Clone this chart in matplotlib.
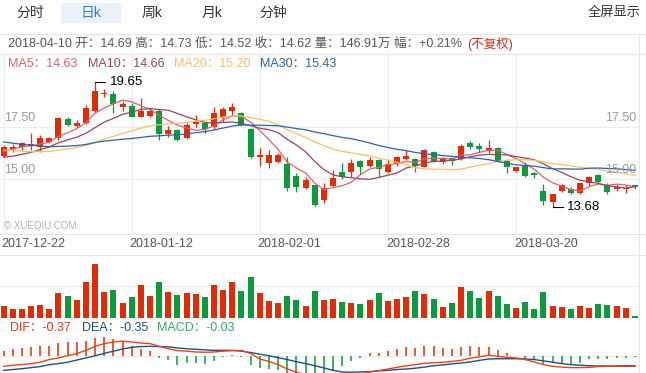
import numpy as np
import pandas as pd
import matplotlib
matplotlib.use('Agg')
import matplotlib.pyplot as plt
from matplotlib.lines import Line2D
from matplotlib.patches import Rectangle

plt.rcParams['font.family'] = ['Liberation Sans', 'Noto Sans CJK SC']

W, H = 646, 373

## DAILY K DATA 2017-12-22 .. 2018-04-10 (70 trading days)
opens = [16.10, 16.42, 16.51, 16.58, 16.51, 16.79, 16.94, 17.85, 17.53, 17.69,
         18.27, 19.06, 19.06, 18.43, 18.49, 17.98, 18.03, 18.27, 17.14, 17.34,
         16.94, 17.63, 17.66, 17.47, 17.98, 18.27, 18.17, 17.37, 16.07, 15.78,
         15.83, 15.72, 15.14, 14.56, 14.71, 14.00, 14.68, 15.34, 15.35, 15.86,
         15.64, 15.91, 15.35, 15.70, 15.97, 15.94, 15.59, 16.31, 15.83, 15.99,
         15.94, 16.74, 16.58, 16.36, 16.50, 15.86, 15.40, 15.64, 15.27, 14.43,
         13.89, 14.44, 14.51, 14.35, 14.79, 15.19, 14.71, 14.51, 14.54, 14.69]
highs = [16.63, 16.67, 16.79, 17.18, 17.10, 17.02, 17.98, 17.98, 17.82, 18.54,
         19.65, 19.29, 19.22, 18.74, 18.62, 18.86, 18.38, 18.33, 17.53, 17.37,
         17.66, 18.06, 17.74, 18.43, 18.43, 18.62, 18.20, 17.42, 16.47, 16.39,
         16.23, 16.04, 15.27, 15.11, 14.73, 14.79, 15.43, 15.75, 15.94, 15.91,
         16.04, 15.94, 15.91, 16.10, 16.39, 15.99, 16.42, 16.34, 16.04, 16.04,
         16.67, 16.83, 16.71, 16.86, 16.55, 15.94, 15.59, 15.83, 15.35, 14.76,
         14.30, 14.74, 14.63, 14.83, 15.14, 15.22, 14.79, 14.75, 14.71, 14.73]
lows = [16.04, 16.31, 16.39, 16.39, 16.31, 16.74, 16.86, 17.53, 17.50, 17.63,
        18.14, 18.90, 18.17, 18.27, 17.95, 17.95, 17.98, 16.86, 17.02, 16.83,
        16.91, 17.47, 17.18, 17.37, 17.74, 18.06, 17.53, 15.99, 15.62, 15.51,
        15.75, 14.44, 14.40, 14.51, 13.72, 13.87, 14.63, 14.99, 15.11, 15.24,
        15.59, 15.11, 15.30, 15.62, 15.91, 15.35, 15.56, 15.80, 15.72, 15.67,
        15.91, 16.42, 16.31, 16.23, 15.83, 15.27, 15.35, 15.08, 15.03, 13.75,
        13.68, 14.40, 14.28, 14.28, 14.67, 14.83, 14.27, 14.44, 14.35, 14.52]
closes = [16.51, 16.51, 16.74, 16.67, 16.94, 16.94, 17.90, 17.58, 17.69, 18.38,
          19.21, 19.13, 18.57, 18.57, 17.98, 18.27, 18.27, 17.14, 17.34, 16.86,
          17.58, 17.71, 17.37, 18.17, 18.35, 18.46, 17.58, 16.04, 16.15, 16.15,
          16.15, 14.56, 14.63, 14.95, 13.75, 14.56, 15.06, 15.08, 15.75, 15.59,
          15.91, 15.46, 15.70, 16.04, 16.10, 15.62, 16.39, 15.83, 15.99, 15.88,
          16.58, 16.51, 16.42, 16.47, 15.88, 15.59, 15.56, 15.14, 15.18, 13.95,
          14.28, 14.71, 14.35, 14.79, 15.08, 14.87, 14.40, 14.63, 14.59, 14.62]
# volume, 万股
volumes = [787, 621, 621, 787, 851, 621, 1619, 1427, 1171, 2323,
           3475, 1683, 1811, 979, 1363, 2131, 1427, 2323, 1683, 1491,
           1619, 1555, 1363, 2131, 1811, 2323, 1747, 2643, 1619, 1107,
           979, 1427, 1171, 787, 1747, 1171, 1235, 1043, 979, 915,
           1171, 1619, 1107, 1235, 1363, 1747, 1555, 1235, 723, 979,
           2003, 1747, 1299, 1747, 1427, 915, 659, 1043, 595, 1683,
           787, 723, 595, 787, 659, 915, 851, 787, 659, 146.91]
# closes of the 29 sessions before 2017-12-22 (only used for the MA lines)
prev_closes = [18.4, 18.3, 18.1, 18.0, 17.9, 17.5, 17.2, 16.9, 16.7, 16.5,
               17.0, 17.3, 17.2, 16.9, 16.8, 16.6, 16.5, 16.4, 16.3, 16.3,
               16.0, 15.9, 15.7, 15.6, 15.7, 15.9, 16.2, 16.4, 16.5]
dif = [-0.37, -0.33, -0.31, -0.27, -0.22, -0.12, -0.06, 0.02, 0.10, 0.22,
       0.37, 0.47, 0.53, 0.56, 0.53, 0.49, 0.47, 0.37, 0.28, 0.21,
       0.19, 0.16, 0.15, 0.16, 0.19, 0.21, 0.22, 0.10, -0.10, -0.19,
       -0.31, -0.47, -0.59, -0.68, -0.78, -0.85, -0.88, -0.85, -0.78, -0.66,
       -0.58, -0.53, -0.47, -0.41, -0.35, -0.31, -0.26, -0.24, -0.22, -0.19,
       -0.15, -0.07, -0.02, 0.04, 0.00, -0.04, -0.06, -0.12, -0.21, -0.31,
       -0.37, -0.40, -0.42, -0.42, -0.41, -0.38, -0.37, -0.37, -0.37, -0.37]
dea = [-0.52, -0.49, -0.46, -0.42, -0.38, -0.31, -0.27, -0.22, -0.14, -0.06,
       0.02, 0.11, 0.19, 0.27, 0.33, 0.36, 0.37, 0.36, 0.35, 0.31,
       0.28, 0.26, 0.24, 0.22, 0.22, 0.22, 0.19, 0.14, 0.08, 0.02,
       -0.05, -0.12, -0.20, -0.27, -0.35, -0.43, -0.52, -0.58, -0.59, -0.58,
       -0.57, -0.54, -0.52, -0.49, -0.47, -0.44, -0.40, -0.35, -0.32, -0.28,
       -0.25, -0.21, -0.15, -0.10, -0.09, -0.09, -0.09, -0.10, -0.12, -0.17,
       -0.22, -0.27, -0.31, -0.33, -0.35, -0.36, -0.36, -0.36, -0.35, -0.35]
macd = [0.19, 0.27, 0.31, 0.35, 0.37, 0.37, 0.49, 0.52, 0.53, 0.56,
        0.68, 0.72, 0.64, 0.56, 0.37, 0.27, 0.19, -0.06, -0.15, -0.31,
        -0.25, -0.25, -0.27, -0.18, -0.03, 0.03, -0.03, -0.31, -0.43, -0.47,
        -0.49, -0.65, -0.75, -0.80, -0.85, -0.75, -0.56, -0.37, -0.19, -0.06,
        0.12, 0.12, 0.19, 0.27, 0.35, 0.31, 0.37, 0.37, 0.31, 0.27,
        0.35, 0.37, 0.35, 0.35, 0.22, 0.12, 0.01, -0.10, -0.12, -0.31,
        -0.22, -0.25, -0.27, -0.25, -0.10, -0.10, -0.10, -0.07, -0.07, -0.03]
date_ticks = [0, 14, 28, 42, 56]
date_labels = ['2017-12-22', '2018-01-12', '2018-02-01', '2018-02-28', '2018-03-20']
price_ticks = [17.50, 15.00]
ma_periods = [5, 10, 20, 30]
ma_last = [14.63, 14.66, 15.20, 15.43]   # values shown in the legend

RED = '#e02c08'
GREEN = '#0c9a3c'
GRID = '#ececec'
ma_colors = ['#e0606f', '#9a4260', '#fbbf63', '#2b63ab']

n = len(closes)
x = np.arange(n)
o = np.array(opens); c = np.array(closes)
up = c >= o
cols = [RED if u else GREEN for u in up]

allc = pd.Series(prev_closes + closes)
mas = [allc.rolling(p).mean().values[-n:] for p in ma_periods]

fig = plt.figure(figsize=(W / 100, H / 100), dpi=100)


def px_axes(x0, y0, w, h):
    a = fig.add_axes([x0 / W, 1 - (y0 + h) / H, w / W, h / H])
    a.set_axis_off()
    a.set_xlim(-0.5, n - 0.5)
    return a


def ftext(px, py, s, **kw):
    return fig.text(px / W, 1 - py / H, s, **kw)


def hline(py, x0=0, x1=W, color='#e6e6e6'):
    fig.add_artist(Line2D([x0 / W, x1 / W], [1 - py / H, 1 - py / H], color=color, lw=0.8))


## TABS
fig.add_artist(Rectangle((61 / W, 1 - 23 / H), 60 / W, 20 / H, color='#eaf1fb', lw=0))
for tx, lab in zip([30, 91, 152, 212, 273], ['分时', '日k', '周k', '月k', '分钟']):
    ftext(tx, 13, lab, ha='center', va='center', fontsize=10,
          color='#3a7ad0' if lab == '日k' else '#333333')
ftext(641, 13, '全屏显示', ha='right', va='center', fontsize=9.5, color='#333333')

## INFO LINE
hline(34)
hline(54)
info = ftext(8, 44, '2018-04-10 开：14.69 高：14.73 低：14.52 收：14.62 量：146.91万 幅：+0.21%',
             ha='left', va='center', fontsize=9, color='#555555')
fig.canvas.draw()
bb = info.get_window_extent()
ftext(bb.x1 + 5, 44, '(不复权)', ha='left', va='center', fontsize=9, color='#d42a1e')

for lx, p, col, v in zip([8, 88, 174, 260], ma_periods, ma_colors, ma_last):
    ftext(lx, 64, 'MA%d：%.2f' % (p, v), ha='left', va='center', fontsize=9, color=col)

## CANDLES
ax = px_axes(-1, 54, 640.5, 180)
ax.set_ylim(15 - 55 / 20.92, 15 + 125 / 20.92)
for t in date_ticks:
    ax.axvline(t, color=GRID, lw=0.8, zorder=0)
for p in price_ticks:
    ax.axhline(p, color=GRID, lw=0.8, zorder=0)
ax.vlines(x, lows, highs, colors=cols, lw=0.9, zorder=2)
body = np.maximum(np.abs(c - o), 0.035)
ax.bar(x, body, bottom=np.minimum(o, c), width=0.66, color=cols, lw=0, zorder=3)
for m, col in zip(mas, ma_colors):
    ax.plot(x, m, color=col, lw=0.9, zorder=4)

hi = int(np.argmax(highs)); lo = int(np.argmin(lows))
ax.plot([hi, hi + 1.1], [highs[hi], highs[hi]], color='black', lw=0.8, zorder=5)
ax.text(hi + 1.6, highs[hi], '%.2f' % highs[hi], va='center', ha='left', fontsize=9.5, color='black')
ax.plot([lo, lo + 1.1], [lows[lo], lows[lo]], color='black', lw=0.8, zorder=5)
ax.text(lo + 1.6, lows[lo], '%.2f' % lows[lo], va='center', ha='left', fontsize=9.5, color='black')

for p in price_ticks:
    ax.annotate('%.2f' % p, (0, p), xycoords=('axes fraction', 'data'), xytext=(5, 3),
                textcoords='offset pixels', ha='left', va='bottom', fontsize=9, color='#999999')
    ax.annotate('%.2f' % p, (1, p), xycoords=('axes fraction', 'data'), xytext=(-3, 3),
                textcoords='offset pixels', ha='right', va='bottom', fontsize=9, color='#999999', zorder=6)
ftext(4, 226, '© XUEQIU.COM', ha='left', va='center', fontsize=7, color='#b0b0b0')

## DATES
hline(234)
hline(254.5)
for t, lab in zip(date_ticks, date_labels):
    ax.annotate(lab, (t, 0), xycoords=('data', 'axes fraction'), xytext=(-2, -10),
                textcoords='offset pixels', ha='left', va='center', fontsize=9, color='#555555')

## VOLUME
av = px_axes(-1, 254.5, 640.5, 63.8)
av.set_ylim(0, 4080)
av.axhline(2040, color=GRID, lw=0.8, zorder=0)
av.bar(x, volumes, width=0.66, color=cols, lw=0)

## MACD
am = px_axes(-1, 318.3, 640.5, 54.7)
am.set_ylim(-(373 - 356.3) / 27, (356.3 - 318.3) / 27)
am.axhline(0, color=GRID, lw=0.8, zorder=0)
hc = [RED if v >= 0 else GREEN for v in macd]
am.vlines(x, 0, macd, colors=hc, lw=1.1)
am.plot(x, dea, color='#1f4f80', lw=1.0)
am.plot(x, dif, color='#e8441c', lw=1.0)
ftext(10, 328, 'DIF：%.2f' % dif[-1], ha='left', va='center', fontsize=9, color='#e0391c')
ftext(82, 328, 'DEA：%.2f' % dea[-1], ha='left', va='center', fontsize=9, color='#1f4f80')
ftext(157, 328, 'MACD：%.2f' % macd[-1], ha='left', va='center', fontsize=9, color='#3aa86b')

fig.add_artist(Line2D([639 / W, 639 / W], [0, 1 - 34 / H], color='#e6e6e6', lw=0.8))

fig.savefig('out.png', dpi=100)
